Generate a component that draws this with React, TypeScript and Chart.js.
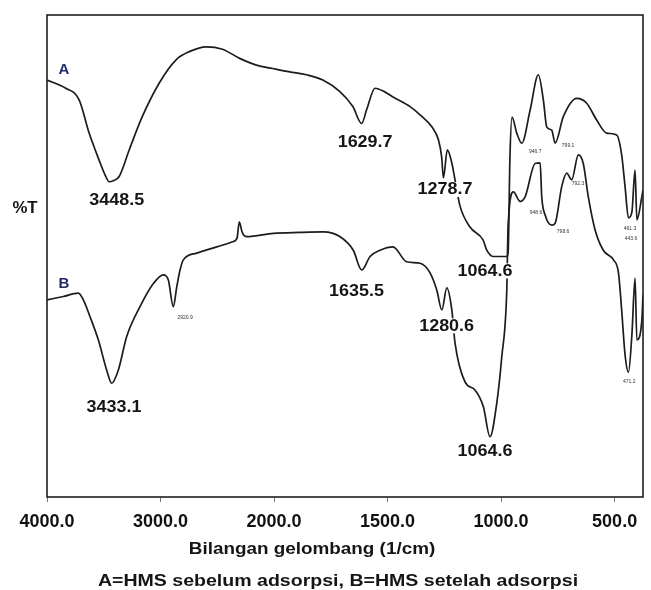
import React, { useEffect, useRef } from "react";
import { Chart, registerables } from "chart.js";

Chart.register(...registerables);

// Wavenumbers (1/cm) and transmittance (relative %T)
const waveA = [4000, 3835, 3717, 3629, 3541, 3488, 3452, 3417, 3364, 3276, 3161, 3011, 2863, 2746, 2598, 2454, 2303, 2156, 2012, 1931, 1857, 1785, 1710, 1653, 1614, 1592, 1555, 1511, 1476, 1401, 1357, 1305, 1276, 1262, 1254, 1237, 1217, 1203, 1181, 1137, 1079, 1063, 1035, 975, 969, 961, 952, 931, 909, 872, 836, 814, 799, 777, 762, 726, 667, 623, 579, 535, 491, 469, 454, 439, 424, 410, 402, 380, 375];
const transA = [86.5, 84.8, 82.4, 75.5, 69.9, 66.8, 65.4, 65.6, 66.5, 72.0, 78.9, 85.9, 90.7, 92.4, 93.4, 92.9, 91.0, 89.6, 88.9, 88.2, 87.6, 86.5, 84.1, 81.0, 77.5, 80.4, 84.8, 84.0, 83.0, 81.0, 79.3, 76.8, 74.1, 70.6, 66.2, 72.0, 69.3, 65.8, 60.4, 56.0, 53.3, 51.2, 49.9, 49.9, 50.8, 70.5, 78.8, 75.5, 73.4, 80.3, 87.6, 82.4, 76.8, 76.1, 73.4, 78.9, 82.7, 81.7, 78.2, 75.5, 75.1, 71.0, 64.4, 57.9, 59.1, 67.8, 57.5, 62.3, 63.7];

const waveB = [4000, 3856, 3724, 3680, 3621, 3548, 3474, 3430, 3372, 3298, 3181, 3063, 2975, 2931, 2887, 2857, 2828, 2799, 2681, 2505, 2359, 2326, 2306, 2282, 2241, 2006, 1886, 1783, 1709, 1651, 1614, 1577, 1533, 1476, 1416, 1357, 1313, 1283, 1261, 1239, 1217, 1203, 1159, 1115, 1078, 1049, 1019, 997, 975, 969, 946, 916, 894, 850, 828, 821, 806, 777, 762, 733, 711, 689, 660, 638, 616, 586, 550, 505, 483, 469, 454, 439, 424, 410, 402, 380, 375];
const transB = [40.9, 41.6, 42.3, 40.9, 37.4, 32.6, 26.3, 23.6, 26.3, 33.3, 39.5, 44.3, 46.1, 45.0, 39.5, 43.6, 47.1, 49.2, 50.6, 51.9, 53.0, 53.7, 57.1, 55.0, 54.0, 54.7, 54.9, 55.0, 54.0, 51.2, 47.1, 49.9, 51.2, 51.9, 48.8, 48.5, 46.5, 42.9, 38.8, 43.4, 38.8, 32.0, 23.9, 22.2, 18.7, 12.5, 19.5, 29.1, 42.9, 56.4, 63.3, 61.3, 62.3, 69.2, 69.3, 62.3, 58.5, 56.4, 56.8, 64.4, 67.2, 65.8, 71.0, 69.2, 62.3, 55.4, 51.2, 49.2, 46.5, 38.8, 29.5, 25.9, 33.6, 45.4, 32.6, 36.7, 41.9];

const tickWaves = [4000, 3000, 2000, 1500, 1000, 500];
const waveMax = 4000;
const waveMin = 375;

// Peak annotations: text, anchor wavenumber, anchor %T
const peakTexts = ["3448.5", "1629.7", "1278.7", "1064.6", "3433.1", "1635.5", "1280.6", "1064.6"];
const peakWaves = [3386, 1599, 1247, 1071, 3410, 1637, 1240, 1071];
const peakT = [61.4, 73.5, 63.7, 46.8, 18.6, 42.7, 35.4, 9.4];

const smallTexts = ["2920.9", "946.7", "799.1", "792.3", "948.6", "798.6", "461.3", "443.6", "471.2"];
const smallWaves = [2784, 850, 705, 661, 846, 727, 432, 428, 436];
const smallT = [37.3, 71.6, 73.0, 65.1, 59.1, 55.0, 55.6, 53.7, 23.9];

const seriesNames = ["A", "B"];
const seriesNameWave = [3850, 3850];
const seriesNameT = [88.6, 44.3];

const yLabel = "%T";
const xTitle = "Bilangan gelombang (1/cm)";
const caption = "A=HMS sebelum adsorpsi, B=HMS setelah adsorpsi";

// Instrument-style axis: 4000-2000 compressed to half scale
const toAxis = (w: number) => (w > 2000 ? 1000 + w / 2 : w);
const fromAxis = (a: number) => (a > 2000 ? 2 * a - 2000 : a);

const FONT = "'Liberation Sans', Arial, sans-serif";

function drawText(
  ctx: CanvasRenderingContext2D,
  text: string,
  cx: number,
  cy: number,
  font: string,
  sx: number,
  color: string,
  bg: boolean
) {
  ctx.save();
  ctx.font = font;
  const w = ctx.measureText(text).width;
  ctx.translate(cx, cy);
  ctx.scale(sx, 1);
  if (bg) {
    ctx.fillStyle = "#ffffff";
    ctx.fillRect(-w / 2 - 1, -8, w + 2, 15);
  }
  ctx.fillStyle = color;
  ctx.textAlign = "center";
  ctx.textBaseline = "middle";
  ctx.fillText(text, 0, 0);
  ctx.restore();
}

const decorPlugin = {
  id: "ftirDecor",
  afterDatasetsDraw(chart: any) {
    const { ctx, chartArea: ca } = chart;
    const xs = chart.scales.x;
    const ys = chart.scales.y;
    ctx.save();
    ctx.strokeStyle = "#1e1e1e";
    ctx.lineWidth = 1.6;
    ctx.strokeRect(ca.left, ca.top, ca.right - ca.left, ca.bottom - ca.top);

    peakTexts.forEach((t, i) => {
      drawText(
        ctx,
        t,
        xs.getPixelForValue(toAxis(peakWaves[i])),
        ys.getPixelForValue(peakT[i]),
        `bold 16px ${FONT}`,
        1.12,
        "#151515",
        true
      );
    });
    smallTexts.forEach((t, i) => {
      drawText(
        ctx,
        t,
        xs.getPixelForValue(toAxis(smallWaves[i])),
        ys.getPixelForValue(smallT[i]),
        `5px ${FONT}`,
        1,
        "#333333",
        false
      );
    });
    seriesNames.forEach((t, i) => {
      drawText(
        ctx,
        t,
        xs.getPixelForValue(toAxis(seriesNameWave[i])),
        ys.getPixelForValue(seriesNameT[i]),
        `bold 15px ${FONT}`,
        1,
        "#1f2a66",
        false
      );
    });

    drawText(ctx, yLabel, 25, 209, `bold 16px ${FONT}`, 1.05, "#151515", false);
    drawText(ctx, xTitle, 312, 549, `bold 17px ${FONT}`, 1.11, "#151515", false);
    drawText(ctx, caption, 338, 581, `bold 17px ${FONT}`, 1.15, "#151515", false);
    ctx.restore();
  },
};

export default function App() {
  const canvasRef = useRef<HTMLCanvasElement | null>(null);

  useEffect(() => {
    const canvas = canvasRef.current;
    if (!canvas) return;
    const chart = new Chart(canvas, {
      type: "line",
      data: {
        datasets: [
          {
            label: "A",
            data: waveA.map((w, i) => ({ x: toAxis(w), y: transA[i] })),
            borderColor: "#1c1c1c",
            borderWidth: 1.7,
            pointRadius: 0,
            cubicInterpolationMode: "monotone",
          },
          {
            label: "B",
            data: waveB.map((w, i) => ({ x: toAxis(w), y: transB[i] })),
            borderColor: "#1c1c1c",
            borderWidth: 1.7,
            pointRadius: 0,
            cubicInterpolationMode: "monotone",
          },
        ],
      },
      options: {
        animation: false,
        responsive: false,
        devicePixelRatio: 1,
        layout: { padding: { left: 47, right: 8, top: 15, bottom: 53 } },
        plugins: {
          legend: { display: false },
          tooltip: { enabled: false },
        },
        scales: {
          x: {
            type: "linear",
            reverse: true,
            min: toAxis(waveMin),
            max: toAxis(waveMax),
            afterBuildTicks: (scale: any) => {
              scale.ticks = tickWaves.map((w) => ({ value: toAxis(w) }));
            },
            afterFit: (scale: any) => {
              scale.height = 40;
            },
            grid: {
              display: true,
              drawOnChartArea: false,
              drawTicks: true,
              tickLength: 5,
              color: "#777777",
            },
            border: { display: false },
            ticks: {
              padding: 9,
              maxRotation: 0,
              autoSkip: false,
              color: "#111111",
              font: { family: FONT, size: 18, weight: "bold" },
              callback: (v: any) => fromAxis(Number(v)).toFixed(1),
            },
          },
          y: {
            display: false,
            min: 0,
            max: 100,
          },
        },
      },
      plugins: [decorPlugin],
    } as any);
    return () => chart.destroy();
  }, []);

  return (
    <div style={{ position: "fixed", left: 0, top: 0, width: 651, height: 590, background: "#fff" }}>
      <canvas ref={canvasRef} width={651} height={590} style={{ display: "block" }} />
    </div>
  );
}
